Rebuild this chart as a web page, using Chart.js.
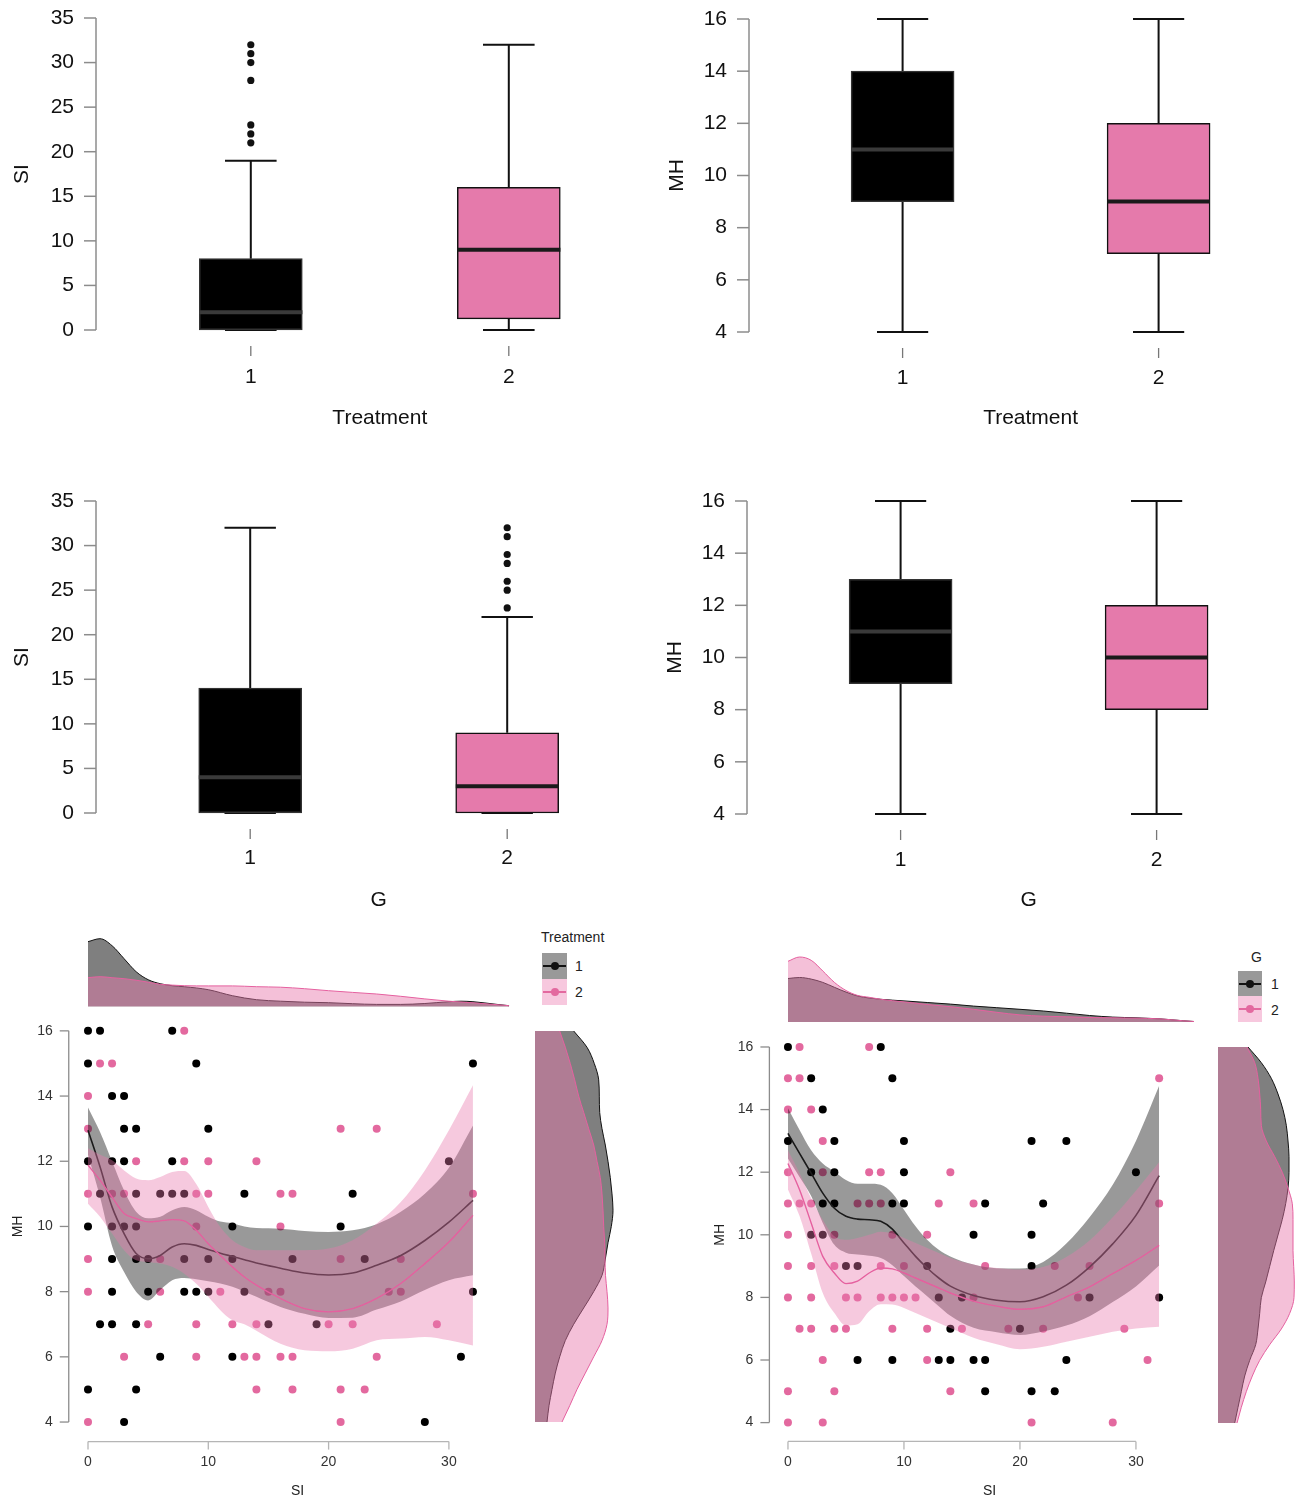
<!DOCTYPE html>
<html>
<head>
<meta charset="utf-8">
<script src="https://cdn.jsdelivr.net/npm/chart.js@4.4.1/dist/chart.umd.min.js"></script>
<style>
  body { margin: 0; width: 1306px; height: 1498px; overflow: hidden; background: #fff; position: relative;
         font-family: 'Liberation Sans', Arial, Helvetica, sans-serif; color: #222; }
  canvas { position: absolute; }
  .txt { position: absolute; font-size: 14px; line-height: 16px; white-space: nowrap; }
  .key { position: absolute; width: 25px; height: 26px; }
  .key i { position: absolute; display: block; }
  .key .ln { left: 1px; right: 1px; top: 12px; height: 2px; }
  .key .dt { left: 8.5px; top: 9px; width: 8px; height: 8px; border-radius: 50%; }
</style>
</head>
<body>
<canvas id="boxTrtSI" width="680" height="440" style="left:0;top:0"></canvas>
<canvas id="boxTrtMH" width="680" height="440" style="left:650px;top:0"></canvas>
<canvas id="boxGSI" width="680" height="440" style="left:0;top:480px"></canvas>
<canvas id="boxGMH" width="680" height="440" style="left:650px;top:480px"></canvas>

<canvas id="topTrt" width="520" height="90" style="left:0;top:920px"></canvas>
<canvas id="scTrt" width="500" height="498" style="left:0;top:1000px"></canvas>
<canvas id="sideTrt" width="110" height="420" style="left:520px;top:1020px"></canvas>

<canvas id="topG" width="520" height="90" style="left:700px;top:940px"></canvas>
<canvas id="scG" width="490" height="498" style="left:700px;top:1000px"></canvas>
<canvas id="sideG" width="106" height="410" style="left:1200px;top:1030px"></canvas>

<div class="txt" style="left:541px;top:929px">Treatment</div>
<div class="key" style="left:542px;top:953px;background:rgb(153,153,153)"><i class="ln" style="background:#111"></i><i class="dt" style="background:#111"></i></div>
<div class="key" style="left:542px;top:979px;background:rgb(247,200,222)"><i class="ln" style="background:#e3699f"></i><i class="dt" style="background:#e3699f"></i></div>
<div class="txt" style="left:575px;top:958px">1</div>
<div class="txt" style="left:575px;top:984px">2</div>

<div class="txt" style="left:1251px;top:949px">G</div>
<div class="key" style="left:1238px;top:971px;width:24px;background:rgb(153,153,153)"><i class="ln" style="background:#111"></i><i class="dt" style="background:#111;left:8px"></i></div>
<div class="key" style="left:1238px;top:996px;width:24px;background:rgb(247,200,222)"><i class="ln" style="background:#e3699f"></i><i class="dt" style="background:#e3699f;left:8px"></i></div>
<div class="txt" style="left:1271px;top:976px">1</div>
<div class="txt" style="left:1271px;top:1002px">2</div>

<div class="txt" style="left:291px;top:1482px">SI</div>
<div class="txt" style="left:983px;top:1482px">SI</div>

<script>
// ---------- box plot values ----------
const boxCats = [1, 2];
const siTicks = [0, 5, 10, 15, 20, 25, 30, 35];
const mhTicks = [4, 6, 8, 10, 12, 14, 16];

const siTrtQ1 = [0, 1.25], siTrtMed = [2, 9], siTrtQ3 = [8, 16], siTrtLo = [0, 0], siTrtHi = [19, 32];
const siTrtOut = [[21, 22, 23, 28, 30, 31, 32], []];

const mhTrtQ1 = [9, 7], mhTrtMed = [11, 9], mhTrtQ3 = [14, 12], mhTrtLo = [4, 4], mhTrtHi = [16, 16];

const siGQ1 = [0, 0], siGMed = [4, 3], siGQ3 = [14, 9], siGLo = [0, 0], siGHi = [32, 22];
const siGOut = [[], [23, 25, 26, 28, 29, 31, 32]];

const mhGQ1 = [9, 8], mhGMed = [11, 10], mhGQ3 = [13, 12], mhGLo = [4, 4], mhGHi = [16, 16];

// ---------- scatter points [SI, MH] ----------
const trt1Pts = [[0,16],[1,16],[7,16],[0,15],[9,15],[32,15],[2,14],[3,14],[3,13],[4,13],[10,13],
  [0,12],[2,12],[3,12],[7,12],[30,12],[1,11],[4,11],[6,11],[7,11],[8,11],[13,11],[22,11],
  [0,10],[2,10],[3,10],[4,10],[12,10],[21,10],[2,9],[4,9],[5,9],[8,9],[10,9],[12,9],[17,9],[23,9],
  [2,8],[5,8],[8,8],[9,8],[10,8],[13,8],[32,8],[1,7],[2,7],[4,7],[15,7],[19,7],
  [6,6],[12,6],[31,6],[0,5],[4,5],[3,4],[28,4]];
const trt2Pts = [[8,16],[1,15],[2,15],[0,14],[0,13],[21,13],[24,13],[4,12],[8,12],[10,12],[14,12],
  [0,11],[2,11],[3,11],[9,11],[10,11],[16,11],[17,11],[32,11],[9,10],[16,10],
  [0,9],[6,9],[21,9],[26,9],[0,8],[6,8],[11,8],[15,8],[16,8],[25,8],[26,8],
  [5,7],[9,7],[12,7],[14,7],[20,7],[22,7],[29,7],[3,6],[9,6],[13,6],[14,6],[16,6],[17,6],[24,6],
  [14,5],[17,5],[21,5],[23,5],[0,4],[21,4]];
const gen1Pts = [[0,16],[8,16],[2,15],[9,15],[3,14],[0,13],[4,13],[10,13],[21,13],[24,13],
  [2,12],[4,12],[10,12],[30,12],[3,11],[4,11],[9,11],[10,11],[17,11],[22,11],
  [2,10],[3,10],[16,10],[21,10],[5,9],[6,9],[12,9],[21,9],[13,8],[15,8],[26,8],[32,8],
  [14,7],[20,7],[6,6],[9,6],[13,6],[14,6],[16,6],[17,6],[24,6],[17,5],[21,5],[23,5]];
const gen2Pts = [[1,16],[7,16],[0,15],[1,15],[32,15],[0,14],[2,14],[3,13],
  [0,12],[3,12],[7,12],[8,12],[14,12],[0,11],[1,11],[2,11],[6,11],[7,11],[8,11],[13,11],[16,11],[32,11],
  [0,10],[4,10],[9,10],[12,10],[0,9],[2,9],[4,9],[8,9],[10,9],[17,9],[23,9],[26,9],
  [0,8],[2,8],[5,8],[6,8],[8,8],[9,8],[10,8],[11,8],[16,8],[25,8],
  [1,7],[2,7],[4,7],[5,7],[9,7],[12,7],[15,7],[19,7],[22,7],[29,7],
  [3,6],[12,6],[31,6],[0,5],[4,5],[14,5],[0,4],[3,4],[21,4],[28,4]];
const siTicksSc = [0, 10, 20, 30];
const mhTicksSc = [4, 6, 8, 10, 12, 14, 16];

// ---------- smoothed fits with bands ----------
const smoothX = [0,1,2,3,4,5,6,7,8,9,10,11,12,13,14,16,18,20,22,24,26,28,30,32];
const trt1Fit = [12.95,11.83,10.6,9.78,9.17,9.01,9.11,9.37,9.47,9.42,9.29,9.18,9.08,8.98,8.88,8.72,8.57,8.51,8.57,8.81,9.11,9.57,10.13,10.8];
const trt1Hi  = [13.65,12.9,12.0,11.1,10.45,10.25,10.3,10.5,10.6,10.5,10.3,10.15,10.1,10.0,9.95,9.93,9.86,9.83,9.88,10.07,10.45,11.0,11.8,13.1];
const trt1Lo  = [12.2,10.9,9.4,8.6,8.0,7.73,8.05,8.35,8.42,8.38,8.32,8.25,8.15,8.0,7.84,7.53,7.32,7.19,7.2,7.45,7.7,8.05,8.35,8.5];
const trt2Fit = [11.88,11.42,10.9,10.4,10.24,10.14,10.17,10.21,10.17,9.88,9.47,9.11,8.76,8.45,8.2,7.79,7.48,7.38,7.48,7.79,8.25,8.86,9.52,10.34];
const trt2Hi  = [12.4,12.2,12.03,11.72,11.47,11.42,11.52,11.67,11.7,11.3,10.6,9.98,9.58,9.37,9.27,9.27,9.27,9.32,9.58,10.09,10.75,11.72,12.95,14.33];
const trt2Lo  = [10.7,10.3,9.78,9.27,8.96,8.91,8.86,8.76,8.55,8.24,7.84,7.43,7.12,7.0,6.8,6.4,6.2,6.17,6.25,6.51,6.56,6.61,6.51,6.35];
const gen1Fit = [13.24,12.6,11.97,11.33,10.85,10.59,10.5,10.48,10.43,10.18,9.74,9.31,8.94,8.62,8.36,8.06,7.91,7.86,8.02,8.39,8.97,9.71,10.62,11.89];
const gen1Hi  = [14.04,13.35,12.7,12.28,12.02,11.75,11.63,11.63,11.6,11.33,10.8,10.27,9.84,9.52,9.31,9.05,8.93,8.92,9.13,9.72,10.56,11.6,13.0,14.76];
const gen1Lo  = [12.44,11.85,11.24,10.38,9.68,9.43,9.37,9.33,9.26,9.03,8.68,8.35,8.04,7.72,7.41,7.03,6.89,6.8,6.91,7.1,7.4,7.85,8.35,9.02];
const gen2Fit = [12.28,11.44,10.38,9.31,8.78,8.44,8.52,8.78,8.94,8.91,8.78,8.62,8.46,8.3,8.14,7.88,7.72,7.62,7.7,8.02,8.34,8.76,9.18,9.66];
const gen2Hi  = [12.7,11.97,11.17,10.48,9.95,9.84,9.9,10.0,10.1,10.05,9.9,9.74,9.58,9.42,9.26,9.05,8.94,8.89,8.97,9.29,9.82,10.56,11.41,12.32];
const gen2Lo  = [11.45,10.6,9.4,8.14,7.5,7.1,7.14,7.56,7.78,7.77,7.66,7.5,7.34,7.18,7.02,6.71,6.5,6.34,6.42,6.58,6.74,6.9,7.01,7.06];

// ---------- marginal densities (relative height) ----------
const densSI = [0,1,2,3,4,5,6,7,8,10,12,14,16,18,20,22,24,26,28,30,31,32,34,35];
const topTrt1 = [65,68,61,48,35,27,23,21,20,17,11,7,5.5,4.5,4,3,2.3,2.3,3.2,5,5.5,5,2.3,1];
const topTrt2 = [29,30,29,28,26.5,24.5,22.4,21.6,21,20.8,20.8,20,19.5,18,16,14.3,12.7,10.4,7.8,5.5,4.7,3.9,2,1];
const topGen1 = [43.5,44.5,42.9,39.6,34.7,29.9,26,24,22.7,21.1,19.5,17.9,15.9,14.3,12.7,11,8.8,6.5,4.9,4.2,3.7,3.2,1.3,0.5];
const topGen2 = [60.7,65,61.7,51,39.6,31.5,26.6,24.7,22.7,20.1,17.5,15.3,12.7,9.7,7.1,5.8,5.2,4.5,4.2,3.9,3.6,3.2,1.3,0.5];
const densMH = [16,15.5,15,14.5,14,13.5,13,12.5,12,11.5,11,10.5,10,9.5,9,8.5,8,7.5,7,6.5,6,5.5,5,4.5,4];
const sideTrt1 = [38.7,52,59.3,63.7,64.3,64.7,67,70.3,73,75.3,77,78,76.3,73,70.3,67,58.7,48.7,38.7,30.3,24.7,20.3,17,14,12];
const sideTrt2 = [24.7,30.3,35.3,39.7,43.7,48.7,53.7,58.7,62,65.3,67,68,68.7,69.7,70,70.5,72,73,72,67,58.7,50.3,42,34.7,27];
const sideGen1 = [30,43.3,53.3,60,65,68.3,70,71,71,70,67.7,64.3,60,55.7,51.7,47.7,43.3,41.7,40,37.7,31.7,26.7,23.3,20,16.7];
const sideGen2 = [29,36.7,40,41.7,42.7,43.3,48.3,56.7,64.3,70,74.3,75,75,75,75.7,76.3,76,71.7,63.3,51.7,41.7,34.3,28.3,23.3,19];

// ---------- styling ----------
const FONT = "'Liberation Sans', Arial, Helvetica, sans-serif";
const BOXFILL = ['#000000', '#e57aab'];
const BOXEDGE = ['#333333', '#111111'];
const MEDCOL = ['#3a3a3a', '#1a1a1a'];
const PINK = '#e3699f';
const GRAYBAND = 'rgba(0,0,0,0.4)';
const PINKBAND = 'rgba(232,121,172,0.4)';
const GRAYDENS = 'rgba(0,0,0,0.5)';
const PINKDENS = 'rgba(232,121,172,0.47)';

Chart.defaults.font.family = FONT;
Chart.defaults.animation = false;
Chart.defaults.plugins.legend.display = false;
Chart.defaults.plugins.tooltip.enabled = false;

// R-style axis lines: drawn only between first and last tick
const rAxis = {
  id: 'rAxis',
  afterDraw(chart, args, o) {
    if (!o || (!o.x && !o.y)) return;
    const ctx = chart.ctx, a = chart.chartArea;
    const seg = (x1, y1, x2, y2) => { ctx.beginPath(); ctx.moveTo(x1, y1); ctx.lineTo(x2, y2); ctx.stroke(); };
    ctx.save();
    if (o.y) {
      const s = chart.scales.y;
      const p = s.ticks.map(t => s.getPixelForValue(t.value));
      ctx.strokeStyle = o.y.color; ctx.lineWidth = o.y.width;
      seg(a.left, p[0], a.left, p[p.length - 1]);
      p.forEach(py => seg(a.left, py, a.left - o.y.len, py));
    }
    if (o.x) {
      const s = chart.scales.x;
      const p = s.ticks.map(t => s.getPixelForValue(t.value));
      ctx.strokeStyle = o.x.color; ctx.lineWidth = o.x.width;
      const y0 = a.bottom + o.x.gap;
      if (o.x.line) seg(p[0], y0, p[p.length - 1], y0);
      p.forEach(px => seg(px, y0, px, y0 + o.x.len));
    }
    ctx.restore();
  }
};
Chart.register(rAxis);

function fixedTicks(list) {
  return s => { s.ticks = list.map(v => ({ value: v })); };
}
// fixed axis sizes, and no extra label padding pushed into the layout
function fitY(w) {
  return s => { s.width = w; s.paddingTop = 0; s.paddingBottom = 0; };
}
function fitX(h) {
  return s => { s.height = h; s.paddingLeft = 0; s.paddingRight = 0; };
}

function boxChart(id, b) {
  const whisk = [];
  boxCats.forEach((c, i) => {
    whisk.push({x: c, y: b.q3[i]}, {x: c, y: b.hi[i]}, {x: c, y: null},
               {x: c - 0.1, y: b.hi[i]}, {x: c + 0.1, y: b.hi[i]}, {x: c, y: null},
               {x: c, y: b.q1[i]}, {x: c, y: b.lo[i]}, {x: c, y: null},
               {x: c - 0.1, y: b.lo[i]}, {x: c + 0.1, y: b.lo[i]}, {x: c, y: null});
  });
  const datasets = [
    { type: 'bar', data: boxCats.map((c, i) => ({x: c, y: [b.q1[i], b.q3[i]]})),
      backgroundColor: BOXFILL, borderColor: BOXEDGE, borderWidth: 1.5, borderSkipped: false,
      barThickness: 103, order: 3, clip: false },
    { type: 'line', data: whisk, borderColor: '#111', borderWidth: 2, pointRadius: 0,
      spanGaps: false, tension: 0, order: 4, clip: false }
  ];
  boxCats.forEach((c, i) => {
    datasets.push({ type: 'line', data: [{x: c - 0.2, y: b.med[i]}, {x: c + 0.2, y: b.med[i]}],
      borderColor: MEDCOL[i], borderWidth: 4, pointRadius: 0, order: 1, clip: false });
    if (b.out && b.out[i].length) {
      datasets.push({ type: 'scatter', data: b.out[i].map(v => ({x: c, y: v})),
        backgroundColor: '#111', pointRadius: 3.6, borderWidth: 0, order: 0, clip: false });
    }
  });
  new Chart(document.getElementById(id), {
    type: 'bar',
    data: { datasets },
    options: {
      responsive: false,
      layout: { padding: { left: 0, top: b.top, right: b.padR, bottom: 0 } },
      scales: {
        x: { type: 'linear', min: 0.4, max: 2.6, offset: false,
             grid: { display: false, drawTicks: false }, border: { display: false },
             ticks: { padding: b.xTickPad, color: '#111', font: { size: 21 }, autoSkip: false, maxRotation: 0 },
             afterBuildTicks: fixedTicks(boxCats),
             afterFit: fitX(b.xH),
             title: { display: true, text: b.xTitle, color: '#111', font: { size: 21 },
                      padding: { top: 0, bottom: b.xTitlePad } } },
        y: { type: 'linear', min: b.ticks[0], max: b.ticks[b.ticks.length - 1], beginAtZero: false,
             grid: { display: false, drawTicks: false }, border: { display: false },
             ticks: { padding: 22, color: '#111', font: { size: 21 }, autoSkip: false },
             afterBuildTicks: fixedTicks(b.ticks),
             afterFit: fitY(b.yW),
             title: { display: true, text: b.yTitle, color: '#111', font: { size: 21 },
                      padding: { top: b.yTitlePad, bottom: 0 } } }
      },
      plugins: { rAxis: {
        y: { color: '#8c8c8c', width: 1.5, len: 12 },
        x: { color: '#777', width: 1.3, gap: 16, len: 10, line: false } } }
    }
  });
}

boxChart('boxTrtSI', { q1: siTrtQ1, med: siTrtMed, q3: siTrtQ3, lo: siTrtLo, hi: siTrtHi, out: siTrtOut,
  ticks: siTicks, yTitle: 'SI', xTitle: 'Treatment', yW: 96, top: 18, xH: 110, padR: 16.4,
  yTitlePad: 9.4, xTitlePad: 9.4, xTickPad: 34.4 });
boxChart('boxTrtMH', { q1: mhTrtQ1, med: mhTrtMed, q3: mhTrtQ3, lo: mhTrtLo, hi: mhTrtHi, out: null,
  ticks: mhTicks, yTitle: 'MH', xTitle: 'Treatment', yW: 99, top: 19, xH: 108, padR: 17.8,
  yTitlePad: 14.4, xTitlePad: 9.4, xTickPad: 33.4 });
boxChart('boxGSI', { q1: siGQ1, med: siGMed, q3: siGQ3, lo: siGLo, hi: siGHi, out: siGOut,
  ticks: siTicks, yTitle: 'SI', xTitle: 'G', yW: 96, top: 21, xH: 107, padR: 18.6,
  yTitlePad: 9.4, xTitlePad: 7.4, xTickPad: 32.4 });
boxChart('boxGMH', { q1: mhGQ1, med: mhGMed, q3: mhGQ3, lo: mhGLo, hi: mhGHi, out: null,
  ticks: mhTicks, yTitle: 'MH', xTitle: 'G', yW: 97, top: 21, xH: 106, padR: 19.8,
  yTitlePad: 12.4, xTitlePad: 7.4, xTickPad: 33.4 });

// ---------- scatter with smooth ----------
function scatterChart(id, s) {
  const xy = (xs, ys) => xs.map((x, i) => ({x, y: ys[i]}));
  const pts = list => list.map(([x, y]) => ({x, y}));
  const band = { pointRadius: 0, borderWidth: 0, tension: 0, cubicInterpolationMode: 'monotone' };
  new Chart(document.getElementById(id), {
    type: 'scatter',
    data: { datasets: [
      { data: pts(s.p1), backgroundColor: '#000', pointRadius: 4, borderWidth: 0, order: 8 },
      { data: pts(s.p2), backgroundColor: PINK, pointRadius: 4, borderWidth: 0, order: 7 },
      Object.assign({ type: 'line', data: xy(smoothX, s.hi1), fill: 3, backgroundColor: GRAYBAND, order: 6 }, band),
      Object.assign({ type: 'line', data: xy(smoothX, s.lo1), fill: false, order: 6 }, band),
      { type: 'line', data: xy(smoothX, s.fit1), borderColor: '#1a1a1a', borderWidth: 1.6, pointRadius: 0,
        cubicInterpolationMode: 'monotone', fill: false, order: 5 },
      Object.assign({ type: 'line', data: xy(smoothX, s.hi2), fill: 6, backgroundColor: PINKBAND, order: 4 }, band),
      Object.assign({ type: 'line', data: xy(smoothX, s.lo2), fill: false, order: 4 }, band),
      { type: 'line', data: xy(smoothX, s.fit2), borderColor: '#e5609f', borderWidth: 1.4, pointRadius: 0,
        cubicInterpolationMode: 'monotone', fill: false, order: 3 }
    ] },
    options: {
      responsive: false,
      layout: { padding: { left: 0, top: s.top, right: s.padR, bottom: 0 } },
      scales: {
        x: { type: 'linear', min: -1.6, max: 33.6,
             grid: { display: false, drawTicks: false }, border: { display: false },
             ticks: { padding: 12, color: '#333', font: { size: 14 }, autoSkip: false, maxRotation: 0 },
             afterBuildTicks: fixedTicks(siTicksSc),
             afterFit: fitX(s.xH) },
        y: { type: 'linear', min: 3.4, max: 16.6,
             grid: { display: false, drawTicks: false }, border: { display: false },
             ticks: { padding: 16, color: '#333', font: { size: 14 }, autoSkip: false },
             afterBuildTicks: fixedTicks(mhTicksSc),
             afterFit: fitY(s.yW),
             title: { display: true, text: 'MH', color: '#222', font: { size: 14 },
                      padding: { top: s.yTitlePad, bottom: 0 } } }
      },
      plugins: { rAxis: {
        y: { color: '#8c8c8c', width: 1.3, len: 9 },
        x: { color: '#b5b5b5', width: 1.3, gap: 0, len: 8, line: true } } }
    }
  });
}

scatterChart('scTrt', { p1: trt1Pts, p2: trt2Pts, fit1: trt1Fit, hi1: trt1Hi, lo1: trt1Lo,
  fit2: trt2Fit, hi2: trt2Hi, lo2: trt2Lo, top: 11.3, padR: 7.8, xH: 56.4, yW: 68.75, yTitlePad: 9.6 });
scatterChart('scG', { p1: gen1Pts, p2: gen2Pts, fit1: gen1Fit, hi1: gen1Hi, lo1: gen1Lo,
  fit2: gen2Fit, hi2: gen2Hi, lo2: gen2Lo, top: 28.2, padR: 12.3, xH: 56.6, yW: 69.4, yTitlePad: 11.6 });

// ---------- marginal densities ----------
function topDensity(id, d1, d2, pad) {
  const xy = ys => densSI.map((x, i) => ({x, y: ys[i]}));
  const common = { pointRadius: 0, borderWidth: 1, cubicInterpolationMode: 'monotone', fill: 'origin', clip: false };
  new Chart(document.getElementById(id), {
    type: 'line',
    data: { datasets: [
      Object.assign({ data: xy(d1), backgroundColor: GRAYDENS, borderColor: '#111', order: 2 }, common),
      Object.assign({ data: xy(d2), backgroundColor: PINKDENS, borderColor: '#e5609f', order: 1 }, common)
    ] },
    options: {
      responsive: false,
      layout: { padding: pad },
      scales: { x: { type: 'linear', min: 0, max: 35, display: false },
                y: { type: 'linear', min: 0, max: 75, display: false } }
    }
  });
}
function sideDensity(id, d1, d2, pad) {
  const xy = xs => densMH.map((m, i) => ({x: xs[i], y: m}));
  const common = { pointRadius: 0, borderWidth: 1, cubicInterpolationMode: 'monotone', fill: 'origin', clip: false };
  new Chart(document.getElementById(id), {
    type: 'line',
    data: { datasets: [
      Object.assign({ data: xy(d1), backgroundColor: GRAYDENS, borderColor: '#111', order: 2 }, common),
      Object.assign({ data: xy(d2), backgroundColor: PINKDENS, borderColor: '#e5609f', order: 1 }, common)
    ] },
    options: {
      responsive: false,
      indexAxis: 'y',
      layout: { padding: pad },
      scales: { x: { type: 'linear', min: 0, max: 80, display: false },
                y: { type: 'linear', min: 4, max: 16, display: false } }
    }
  });
}

topDensity('topTrt', topTrt1, topTrt2, { left: 88, right: 10.95, top: 11.7, bottom: 3.3 });
topDensity('topG', topGen1, topGen2, { left: 88, right: 26, top: 7, bottom: 8 });
sideDensity('sideTrt', sideTrt1, sideTrt2, { left: 15, right: 15, top: 11, bottom: 18 });
sideDensity('sideG', sideGen1, sideGen2, { left: 18, right: 8, top: 17, bottom: 17 });
</script>
</body>
</html>
